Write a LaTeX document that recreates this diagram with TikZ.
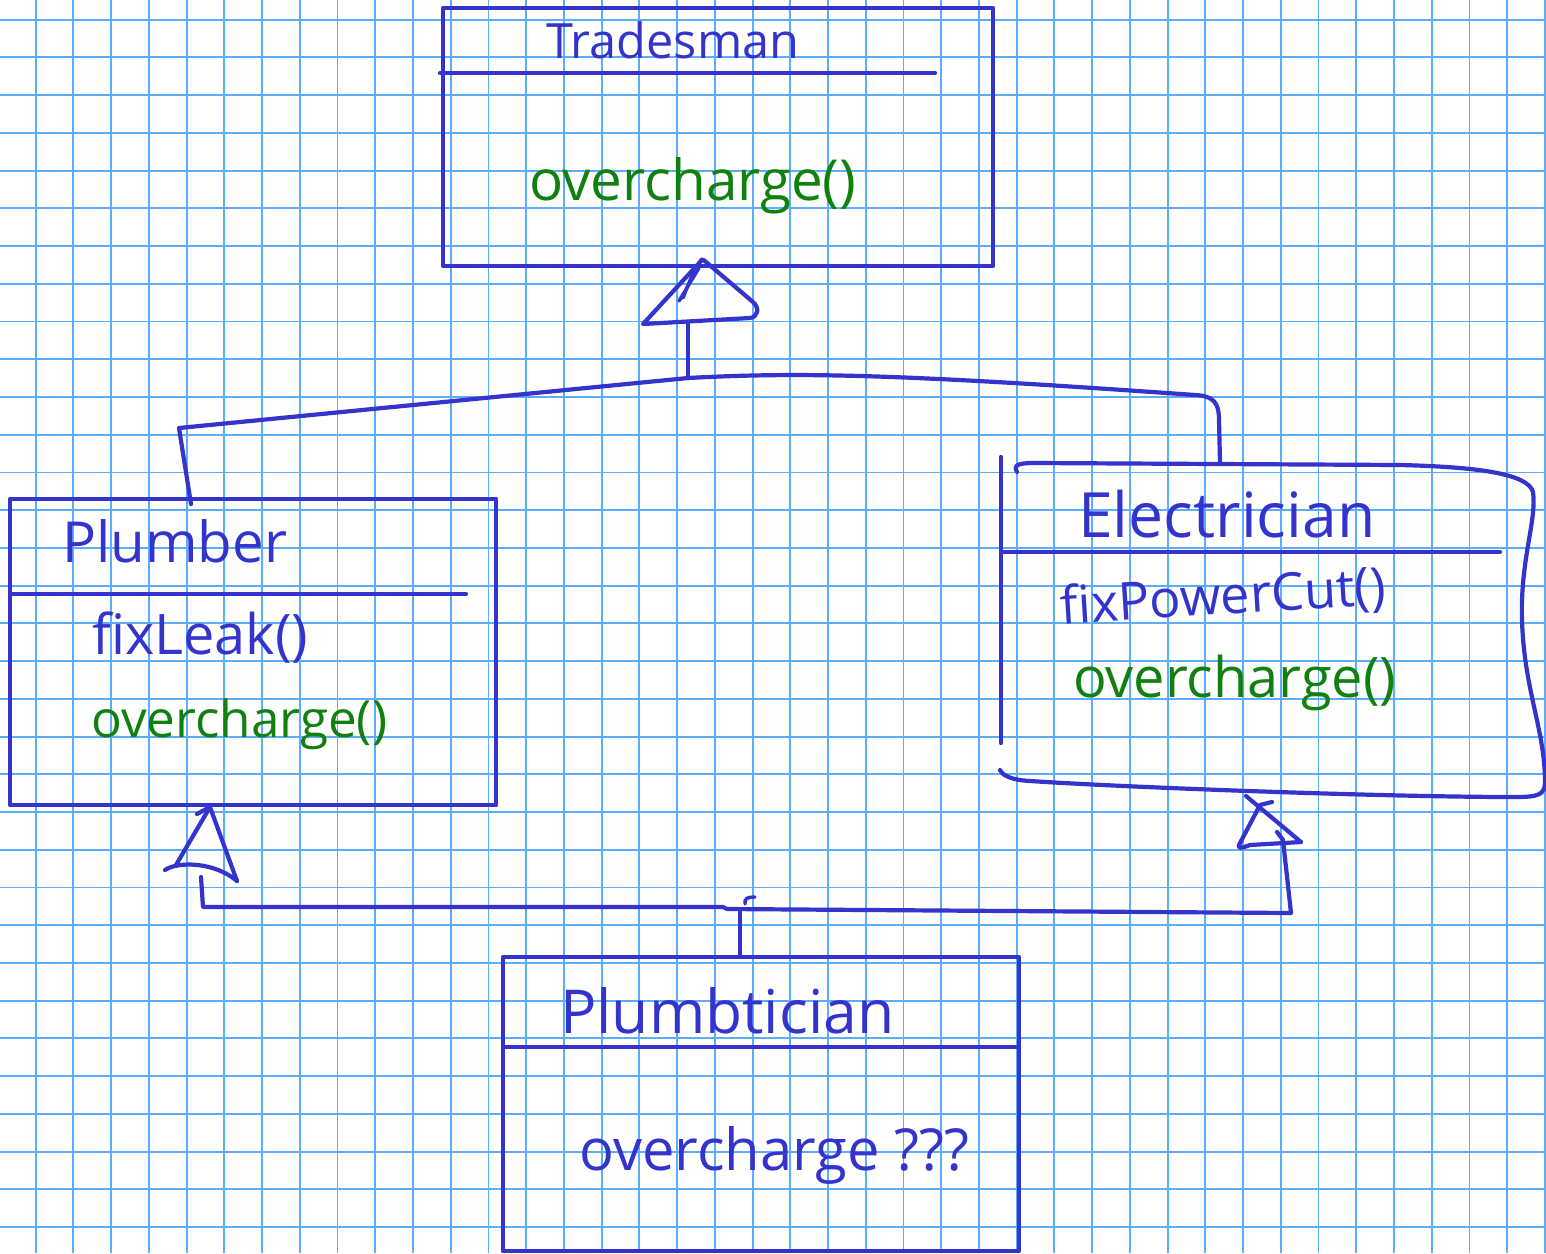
\documentclass[tikz,border=0pt]{standalone}
\usepackage{fontspec}
\usepackage{graphicx}
\setmainfont{Open Sans}
\definecolor{ink}{RGB}{52,52,204}
\definecolor{pengreen}{RGB}{16,128,16}
\definecolor{gridblue}{RGB}{92,172,255}

\begin{document}
\begin{tikzpicture}[x=1bp,y=-1bp,
  pen/.style={draw=ink, line width=4.2bp, line cap=round, line join=round},
  classbox/.style={pen, rectangle, inner sep=0pt, outer sep=0pt, anchor=north west},
  gridline/.style={draw=gridblue, line width=1.9bp},
  lbl/.style={inner sep=0pt, anchor=base west, text=ink},
  meth/.style={lbl, text=pengreen}]

% paper and squared grid
\fill[white] (0,0) rectangle (1546,1253);
\useasboundingbox (0,0) rectangle (1546,1253);
\foreach \i in {0,...,40} \draw[gridline] ({35.7+37.73*\i},0) -- ++(0,1253);
\foreach \j in {0,...,32} \draw[gridline] (0,{19.7+37.73*\j}) -- ++(1546,0);

% ---------- class boxes ----------
\node[classbox, minimum width=550bp, minimum height=258bp] (trades) at (443,8) {};
\draw[pen] (440,73) -- (935,73);
\node[lbl] (tradesName) at (546,58) {\resizebox{253bp}{!}{Tradesman}};
\node[meth] (tradesOver) at (529,200) {\resizebox{327bp}{!}{overcharge()}};

\node[classbox, minimum width=486bp, minimum height=306bp] (plumber) at (10,499) {};
\draw[pen] (10,594) -- (466,594);
\node[lbl] (plumberName) at (62,562) {\resizebox{225bp}{!}{Plumber}};
\node[lbl] (plumberFix) at (92,654) {\resizebox{216bp}{!}{fixLeak()}};
\node[meth] (plumberOver) at (91,737) {\resizebox{296bp}{!}{overcharge()}};

% Electrician: freehand outline
\coordinate (elecTop) at (1220,463);
\draw[pen] (1001,457) -- (1001,743);
\draw[pen] (1017,472) .. controls (1013,465) and (1018,463) .. (1035,463)
  -- (1400,465) .. controls (1480,467) and (1528,474) .. (1533,492)
  .. controls (1537,520) and (1520,560) .. (1522,620)
  .. controls (1524,690) and (1545,730) .. (1545,782)
  .. controls (1545,795) and (1538,797) .. (1515,797)
  .. controls (1380,797) and (1120,787) .. (1030,781)
  .. controls (1012,780) and (1003,776) .. (1000,770);
\draw[pen] (1001,552) -- (1500,552);
\node[lbl] (elecName) at (1078,537) {\resizebox{297bp}{!}{Electrician}};
\node[lbl, rotate=3.5] (elecFix) at (1061,624) {\resizebox{326bp}{!}{fixPowerCut()}};
\node[meth] (elecOver) at (1073,697) {\resizebox{323bp}{!}{overcharge()}};

\node[classbox, minimum width=516bp, minimum height=294bp] (plumbt) at (503,957) {};
\draw[pen] (503,1047) -- (1019,1047);
\node[lbl] (plumbtName) at (560,1033) {\resizebox{334bp}{!}{Plumbtician}};
\node[lbl] (plumbtOver) at (579,1170) {\resizebox{390bp}{!}{overcharge ???}};

% ---------- generalisation: Plumber, Electrician -> Tradesman ----------
\coordinate (tApex) at (701,261);
\coordinate (tStemTop) at (688,322);
\coordinate (tJoin) at (688,378);
\coordinate (pCorner) at (179,428);
\coordinate (pTop) at (191,504);
\draw[pen] (tApex) -- (643,324) -- (750,318)
  .. controls (758,317) and (760,308) .. (753,302) -- (706,262)
  .. controls (703,259) and (700,259) .. (tApex);
\draw[pen, line width=3.4bp] (699,268) -- (679,301);
\draw[pen, line width=3.4bp] (694,270) -- (683,298);
\draw[pen] (tStemTop) -- (tJoin);
\draw[pen] (pTop) -- (pCorner) -- (tJoin);
\draw[pen] (tJoin) .. controls (800,372) and (900,374) .. (1195,395)
  .. controls (1214,396) and (1219,403) .. (1219,420) -- (elecTop);

% ---------- generalisation: Plumbtician -> Plumber, Electrician ----------
\coordinate (pApex) at (210,807);
\coordinate (btJoin) at (740,909);
\draw[pen] (197,814) -- (pApex) -- (237,881);
\draw[pen] (pApex) -- (176,865);
\draw[pen] (165,870) .. controls (178,861) and (215,862) .. (237,881);
\draw[pen] (201,877) -- (203,907) -- (723,907) -- (727,909) -- (1291,913) -- (1283,840) -- (1277,832);
\draw[pen] (1246,796) -- (1301,842);
\draw[pen] (1272,802) -- (1260,805) -- (1240,843)
  .. controls (1236,850) and (1242,848) .. (1250,845) -- (1301,842);
\draw[pen] (plumbt.north -| btJoin) -- (btJoin);
\draw[pen, line width=3.4bp] (745,904) .. controls (744,898) and (748,897) .. (755,897);

\end{tikzpicture}
\end{document}
